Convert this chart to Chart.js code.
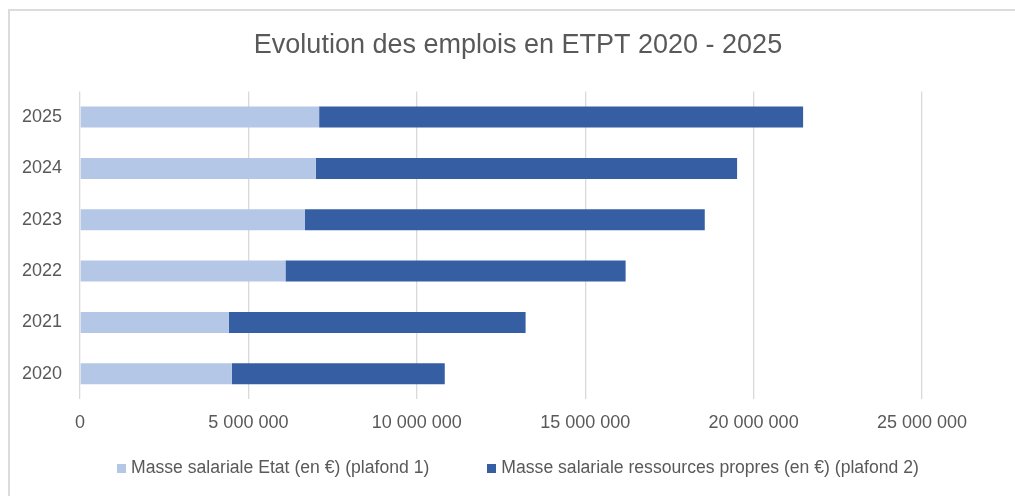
<!DOCTYPE html>
<html lang="fr">
<head>
<meta charset="utf-8">
<title>Evolution des emplois en ETPT 2020 - 2025</title>
<script src="https://cdn.jsdelivr.net/npm/chart.js@4.4.1/dist/chart.umd.min.js"></script>
<style>
  html, body { margin: 0; padding: 0; background: #fff; overflow: hidden; }
  #wrap { position: relative; width: 1015px; height: 496px; }
  #frame {
    position: absolute; left: 8px; top: 9px; width: 2000px; height: 2000px;
    border-left: 2px solid #dcdcdc; border-top: 2px solid #dcdcdc;
  }
  #main-chart { position: absolute; left: 0; top: 0; }
  #chart-legend {
    position: absolute; left: 21px; right: 0; top: 456px; height: 22px;
    display: flex; justify-content: center; align-items: center; gap: 58px;
    font: 17.6px 'Liberation Sans', Arial, sans-serif; color: #595959;
  }
  .legend-item { display: flex; align-items: center; white-space: nowrap; }
  .legend-color { width: 9px; height: 9px; margin-right: 5px; margin-top: 3px; }
</style>
</head>
<body>
<div id="wrap">
  <div id="frame"></div>
  <canvas id="main-chart" width="1015" height="496"></canvas>
  <div id="chart-legend"></div>
</div>
<script>
const years   = ['2020', '2021', '2022', '2023', '2024', '2025'];
const etat    = [4510000, 4420000, 6100000, 6680000, 7000000, 7100000];
const propres = [6320000, 8810000, 10100000, 11870000, 12510000, 14370000];
const seriesNames = [
  'Masse salariale Etat (en €) (plafond 1)',
  'Masse salariale ressources propres (en €) (plafond 2)'
];
const xTicks = [0, 5000000, 10000000, 15000000, 20000000, 25000000];

const textColor = '#595959';
const font = "'Liberation Sans', Arial, sans-serif";

const fmt = v => String(v).replace(/\B(?=(\d{3})+(?!\d))/g, ' ');

const datasets = [
  { label: seriesNames[0], data: etat,    backgroundColor: '#b4c7e7' },
  { label: seriesNames[1], data: propres, backgroundColor: '#365ea2' },
].map(ds => ({
  ...ds,
  borderWidth: 0,
  barPercentage: 0.41,
  categoryPercentage: 1,
  xAxisID: 'x',
  yAxisID: 'y',
}));

const chart = new Chart(document.getElementById('main-chart'), {
  type: 'bar',
  data: { labels: years, datasets },
  options: {
    indexAxis: 'y',
    responsive: false,
    animation: false,
    layout: { padding: { left: 21, top: 0, right: 0, bottom: 49 } },
    plugins: {
      legend: { display: false },
      tooltip: { enabled: true },
      title: {
        display: true,
        text: 'Evolution des emplois en ETPT 2020 - 2025',
        color: textColor,
        font: { family: font, size: 27, weight: 'normal' },
        padding: { top: 29, bottom: 30 },
      },
    },
    scales: {
      x: {
        stacked: true,
        min: 0,
        max: 25000000,
        afterBuildTicks: s => { s.ticks = xTicks.map(v => ({ value: v })); },
        grid: { color: '#d9d9d9', lineWidth: 1.3, drawTicks: false },
        border: { display: false },
        ticks: { color: textColor, font: { family: font, size: 18 }, padding: 13, maxRotation: 0, callback: v => fmt(v) },
      },
      y: {
        stacked: true,
        reverse: true,
        grid: { display: false, drawTicks: false },
        border: { display: false },
        ticks: { color: textColor, font: { family: font, size: 18 }, padding: 18 },
        afterFit: s => { s.width = 59; },
      },
      yRight: {
        type: 'linear',
        position: 'right',
        display: true,
        grid: { display: false },
        border: { display: false },
        ticks: { display: false },
        afterFit: s => { s.width = 93; },
      },
    },
  },
});

// HTML legend, built from the datasets
const legendEl = document.getElementById('chart-legend');
chart.data.datasets.forEach(ds => {
  const div = document.createElement('div');
  div.className = 'legend-item';
  div.innerHTML = `<svg class="legend-color" viewBox="0 0 9 9"><rect width="9" height="9" fill="${ds.backgroundColor}"/></svg>${ds.label}`;
  legendEl.appendChild(div);
});
</script>
</body>
</html>
